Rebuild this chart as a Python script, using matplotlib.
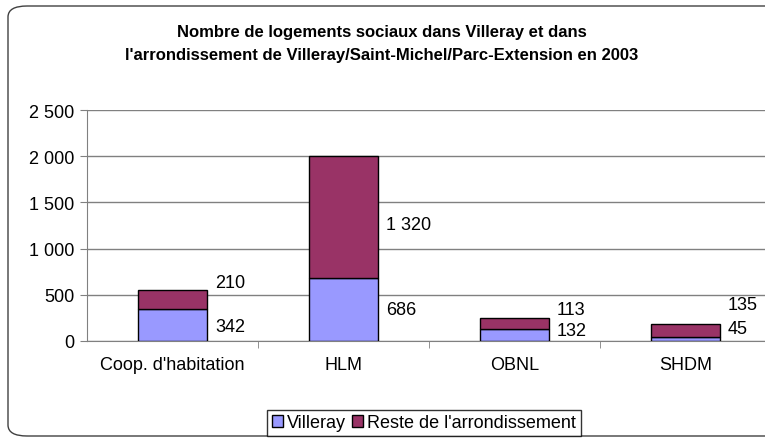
import matplotlib.pyplot as plt
from matplotlib.patches import FancyBboxPatch
from matplotlib.ticker import FuncFormatter, FixedLocator
import numpy as np

plt.rcParams['font.family'] = ['Liberation Sans', 'DejaVu Sans']

categories = ["Coop. d'habitation", "HLM", "OBNL", "SHDM"]
villeray = [342, 686, 132, 45]
reste = [210, 1320, 113, 135]
series_names = ["Villeray", "Reste de l'arrondissement"]

# where the value labels sit (data units), nudged apart so they don't collide
lower_label_y = [162, 346, 119, 130]
upper_label_y = [628, 1266, 346, 390]

W, H = 765, 439
FS = 13
fig = plt.figure(figsize=(W / 100, H / 100), dpi=100)

def px_rect(x0, y0, x1, y1):
    return [x0 / W, 1 - y1 / H, (x1 - x0) / W, (y1 - y0) / H]

# rounded frame round the whole chart
frame = FancyBboxPatch((8 / W, 2 / H), (800 - 8) / W, (432 - 2) / H,
                       boxstyle="round,pad=0,rounding_size=0.025",
                       transform=fig.transFigure, fill=False,
                       edgecolor="#404040", linewidth=1.0)
fig.patches.append(frame)

ax = fig.add_axes(px_rect(87, 111, 771, 342))
x = np.arange(len(categories))
w = 0.4
ax.bar(x, villeray, w, color="#9999FF", edgecolor="black", linewidth=1.0,
       label=series_names[0], zorder=3)
ax.bar(x, reste, w, bottom=villeray, color="#993366", edgecolor="black",
       linewidth=1.0, label=series_names[1], zorder=3)

def fmt(v, pos=None):
    return f"{int(v):,}".replace(",", " ")

for i in range(len(categories)):
    ax.annotate(fmt(villeray[i]), (x[i] + w / 2, lower_label_y[i]),
                xytext=(6, 0), textcoords="offset points", va="center",
                ha="left", fontsize=FS)
    ax.annotate(fmt(reste[i]), (x[i] + w / 2, upper_label_y[i]),
                xytext=(6, 0), textcoords="offset points", va="center",
                ha="left", fontsize=FS)

ax.set_xlim(-0.5, 3.5)
ax.set_ylim(0, 2500)
ax.yaxis.set_major_locator(FixedLocator([0, 500, 1000, 1500, 2000, 2500]))
ax.yaxis.set_major_formatter(FuncFormatter(fmt))
ax.grid(axis="y", color="#808080", linewidth=1.0, zorder=0)
ax.set_axisbelow(True)

ax.set_xticks(x)
ax.set_xticklabels(categories, fontsize=FS)
ax.set_xticks([0.5, 1.5, 2.5], minor=True)
ax.tick_params(axis="x", which="major", length=0, pad=11)
ax.tick_params(axis="x", which="minor", length=5, direction="out", color="#808080")
ax.tick_params(axis="y", length=5, direction="out", color="#808080",
               labelsize=FS, pad=4)

for side in ["top", "right"]:
    ax.spines[side].set_visible(False)
ax.spines["left"].set_color("#808080")
ax.spines["bottom"].set_color("#808080")

fig.text(382 / W, 1 - 44 / H,
         "Nombre de logements sociaux dans Villeray et dans\n"
         "l'arrondissement de Villeray/Saint-Michel/Parc-Extension en 2003",
         ha="center", va="center", fontsize=12, fontweight="bold",
         linespacing=1.65)

fig.legend(loc="center", bbox_to_anchor=(424 / W, 1 - 424 / H), ncol=2,
           fontsize=FS, frameon=True, fancybox=False, edgecolor="black",
           handlelength=0.6, handleheight=0.6, handletextpad=0.25,
           columnspacing=0.3, borderpad=0.25, borderaxespad=0)

fig.savefig("out.png", dpi=100)
